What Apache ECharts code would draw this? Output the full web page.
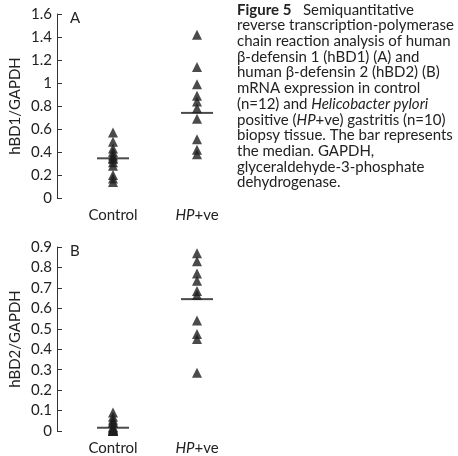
<!DOCTYPE html>
<html>
<head>
<meta charset="utf-8">
<script src="https://cdn.jsdelivr.net/npm/echarts@6/dist/echarts.min.js"></script>
<style>
html,body{margin:0;padding:0;background:#fff;}
#chart{width:458px;height:456px;}
</style>
</head>
<body>
<div id="chart"></div>
<script>
/****
 * hBD1 / hBD2 scatter (Figure 5)
 */
var categories = ['Control', 'HP+ve'];

// panel A
var hbd1Control = [0.57, 0.49, 0.43, 0.40, 0.37, 0.35, 0.34, 0.31, 0.28, 0.20, 0.17, 0.14];
var hbd1HP = [1.42, 1.14, 0.99, 0.89, 0.84, 0.78, 0.69, 0.51, 0.42, 0.38];
var hbd1Median = [0.345, 0.74];

// panel B
var hbd2Control = [0.09, 0.07, 0.055, 0.045, 0.04, 0.02, 0.015, 0.01, 0.005, 0, 0, 0];
var hbd2HP = [0.87, 0.83, 0.77, 0.735, 0.685, 0.665, 0.54, 0.475, 0.45, 0.285];
var hbd2Median = [0.016, 0.645];

var ticksA = {min: 0, max: 1.6, interval: 0.2};
var ticksB = {min: 0, max: 0.9, interval: 0.1};

var txt = '#222';
var font = 'Lato';
var fs = 15;

function toPoints(cat, arr){
	var out = [];
	for (var i = 0; i < arr.length; i++) {
		out.push([cat, arr[i]]);
	}
	return out;
}

function medianPoints(arr){
	var out = [];
	for (var i = 0; i < arr.length; i++) {
		out.push([categories[i], arr[i]]);
	}
	return out;
}

function xAxisFor(idx){
	return {
		type: 'category',
		gridIndex: idx,
		data: categories,
		axisLine: {show: false},
		axisTick: {show: false},
		axisLabel: {
			margin: 10,
			color: txt,
			fontSize: fs,
			fontFamily: font,
			formatter: function(v){
				return v == 'HP+ve' ? '{i|HP}+ve' : v;
			},
			rich: {i: {fontStyle: 'italic', fontSize: fs, fontFamily: font, color: txt}}
		}
	};
}

function yAxisFor(idx, t, name){
	return {
		type: 'value',
		gridIndex: idx,
		min: t.min,
		max: t.max,
		interval: t.interval,
		offset: 14,
		name: name,
		nameLocation: 'middle',
		nameGap: 34,
		nameTextStyle: {color: txt, fontSize: fs, fontFamily: font},
		splitLine: {show: false},
		axisLine: {show: true, lineStyle: {color: '#333', width: 1}},
		axisTick: {show: true, inside: true, length: 5, lineStyle: {color: '#333'}},
		axisLabel: {margin: 5, color: txt, fontSize: fs, fontFamily: font}
	};
}

function scatter(idx, cat, arr){
	return {
		type: 'scatter',
		xAxisIndex: idx,
		yAxisIndex: idx,
		symbol: 'triangle',
		symbolSize: 10,
		itemStyle: {color: '#1e1e1e'},
		data: toPoints(cat, arr),
		z: 3
	};
}

function median(idx, arr){
	return {
		type: 'scatter',
		xAxisIndex: idx,
		yAxisIndex: idx,
		symbol: 'rect',
		symbolSize: [32, 2],
		itemStyle: {color: '#1e1e1e'},
		data: medianPoints(arr),
		z: 4
	};
}

var caption = [
	'{b|Figure 5}   Semiquantitative',
	'reverse transcription-polymerase',
	'chain reaction analysis of human',
	'β-defensin 1 (hBD1) (A) and',
	'human β-defensin 2 (hBD2) (B)',
	'mRNA expression in control',
	'(n=12) and {i|Helicobacter pylori}',
	'positive ({i|HP}+ve) gastritis (n=10)',
	'biopsy tissue. The bar represents',
	'the median. GAPDH,',
	'glyceraldehyde-3-phosphate',
	'dehydrogenase.'
];

var chart = echarts.init(document.getElementById('chart'));
var option = {
	animation: false,
	backgroundColor: '#fff',
	grid: [
		{left: 71, width: 168, top: 14, height: 184},
		{left: 71, width: 168, top: 247, height: 184}
	],
	xAxis: [xAxisFor(0), xAxisFor(1)],
	yAxis: [yAxisFor(0, ticksA, 'hBD1/GAPDH'), yAxisFor(1, ticksB, 'hBD2/GAPDH')],
	series: [
		scatter(0, categories[0], hbd1Control),
		scatter(0, categories[1], hbd1HP),
		median(0, hbd1Median),
		scatter(1, categories[0], hbd2Control),
		scatter(1, categories[1], hbd2HP),
		median(1, hbd2Median)
	],
	graphic: [
		{type: 'text', left: 70, top: 11, style: {text: 'A', fill: txt, font: '15px Lato'}},
		{type: 'text', left: 70, top: 244, style: {text: 'B', fill: txt, font: '15px Lato'}},
		{
			type: 'text',
			left: 237,
			top: 2,
			style: {
				text: caption.join('\n'),
				fill: txt,
				font: '15px Lato',
				lineHeight: 15.7,
				rich: {
					b: {fontWeight: 'bold', fontSize: fs, fontFamily: font, lineHeight: 15.7},
					i: {fontStyle: 'italic', fontSize: fs, fontFamily: font, lineHeight: 15.7}
				}
			}
		}
	]
};
chart.setOption(option);
</script>
</body>
</html>
